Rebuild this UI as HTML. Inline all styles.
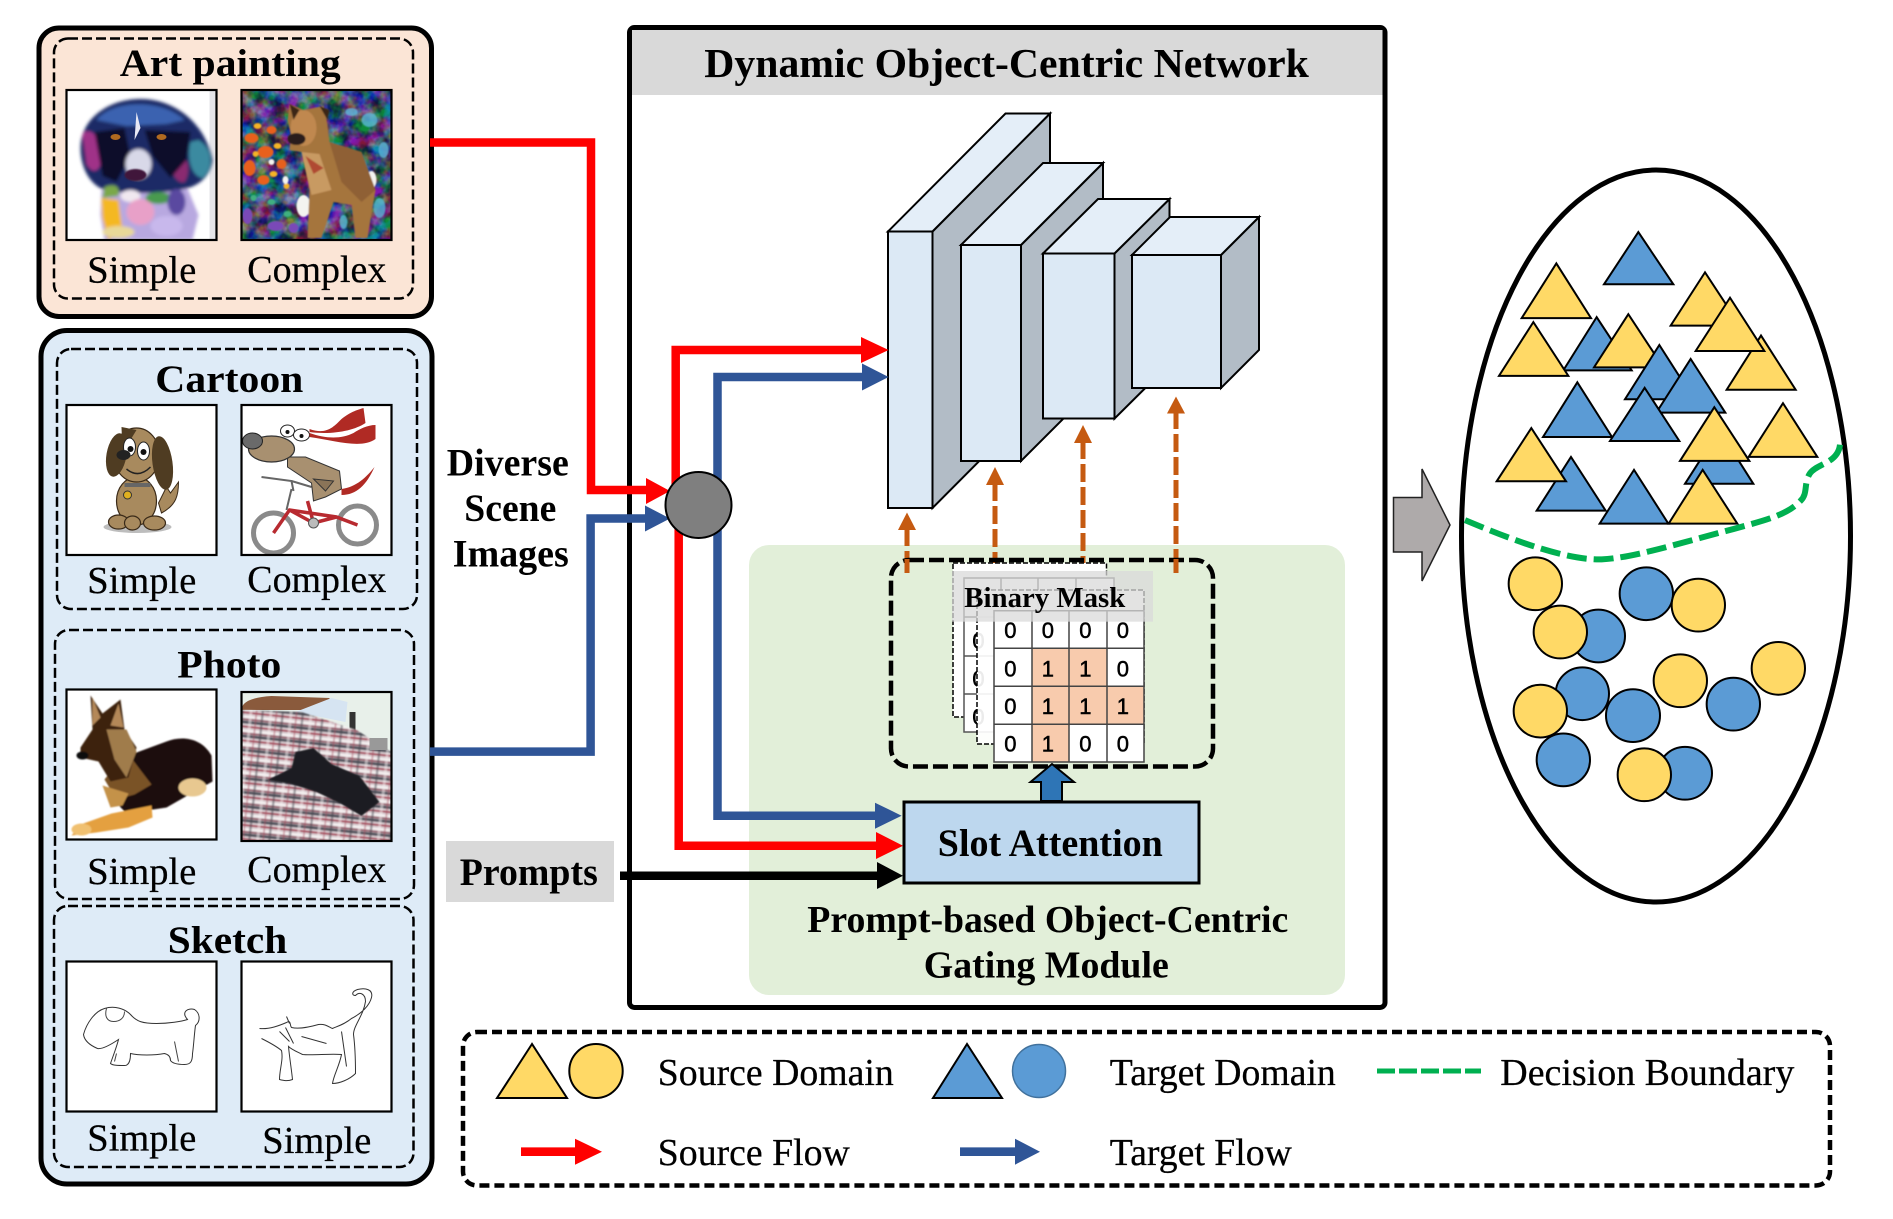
<!DOCTYPE html>
<html><head><meta charset="utf-8"><title>Dynamic Object-Centric Network</title>
<style>html,body{margin:0;padding:0;background:#fff}svg{display:block}
text{font-family:"Liberation Serif",serif;fill:#000;transform:translate(-.7px,1px)}
.b{font-weight:bold}.r{font-size:38px;stroke:#000;stroke-width:.25px}.h{font-size:39px;font-weight:bold}
.n{font-family:"Liberation Sans",sans-serif;font-size:22px;stroke:#000;stroke-width:.5px;transform:translate(-2.6px,.5px)}
</style></head><body>
<svg width="1893" height="1219" viewBox="0 0 1893 1219" xmlns="http://www.w3.org/2000/svg">
<defs>
<clipPath id="c"><rect x="0" y="0" width="150" height="150"/></clipPath>
<filter id="bl" x="-10%" y="-10%" width="120%" height="120%"><feGaussianBlur stdDeviation="1.5"/></filter>
<filter id="bs" x="-10%" y="-10%" width="120%" height="120%"><feGaussianBlur stdDeviation=".8"/></filter>
<filter id="paint" x="0" y="0" width="1" height="1" color-interpolation-filters="sRGB"><feTurbulence type="fractalNoise" baseFrequency=".07" numOctaves="3" seed="11"/><feColorMatrix values="2.8 0 0 0 -.95 0 2.8 0 0 -.95 0 0 2.8 0 -.95 0 0 0 0 1"/></filter>
<pattern id="plaid" width="20" height="14" patternUnits="userSpaceOnUse" patternTransform="rotate(6)">
<rect width="20" height="14" fill="#d8ccd0"/>
<rect y="0" width="20" height="3" fill="#55555e"/><rect y="5" width="20" height="2" fill="#a85060"/><rect y="9" width="20" height="2" fill="#f6f2f2"/><rect y="12" width="20" height="1.5" fill="#8a4a5a"/>
<rect x="2" width="2.500" height="14" fill="#45454e" opacity=".45"/><rect x="10" width="3" height="14" fill="#f6f0f0" opacity=".5"/><rect x="16" width="2" height="14" fill="#a85060" opacity=".4"/>
</pattern>
</defs>
<rect width="1893" height="1219" fill="#fff"/>

<!-- Art panel -->
<rect x="39" y="28" width="392.500" height="288.500" rx="20" fill="#fbe5d6" stroke="#000" stroke-width="5"/>
<rect x="54" y="38.5" width="359" height="260" rx="14" fill="none" stroke="#000" stroke-width="2.5" stroke-dasharray="10 4"/>
<!-- Blue panel -->
<rect x="41" y="330.500" width="391" height="853.500" rx="26" fill="#deebf7" stroke="#000" stroke-width="5"/>
<rect x="57" y="349" width="360" height="260" rx="14" fill="none" stroke="#000" stroke-width="2.5" stroke-dasharray="10 4"/>
<rect x="55" y="630" width="359" height="269" rx="14" fill="none" stroke="#000" stroke-width="2.5" stroke-dasharray="10 4"/>
<rect x="54" y="906" width="359.500" height="261" rx="14" fill="none" stroke="#000" stroke-width="2.5" stroke-dasharray="10 4"/>

<text class="h" x="120.400" y="75" textLength="221" lengthAdjust="spacingAndGlyphs">Art painting</text>
<text class="h" x="156" y="391" textLength="148" lengthAdjust="spacingAndGlyphs">Cartoon</text>
<text class="h" x="178" y="676.500" textLength="104" lengthAdjust="spacingAndGlyphs">Photo</text>
<text class="h" x="168.500" y="952" textLength="119.500" lengthAdjust="spacingAndGlyphs">Sketch</text>

<text class="r" x="88" y="281.500" textLength="109" lengthAdjust="spacingAndGlyphs">Simple</text>
<text class="r" x="248" y="281" textLength="139" lengthAdjust="spacingAndGlyphs">Complex</text>
<text class="r" x="88" y="592" textLength="109" lengthAdjust="spacingAndGlyphs">Simple</text>
<text class="r" x="248" y="591" textLength="139" lengthAdjust="spacingAndGlyphs">Complex</text>
<text class="r" x="88" y="883" textLength="109" lengthAdjust="spacingAndGlyphs">Simple</text>
<text class="r" x="248" y="881" textLength="139" lengthAdjust="spacingAndGlyphs">Complex</text>
<text class="r" x="88" y="1149.500" textLength="109" lengthAdjust="spacingAndGlyphs">Simple</text>
<text class="r" x="263" y="1152" textLength="109" lengthAdjust="spacingAndGlyphs">Simple</text>

<!-- IMG: art simple -->
<g transform="translate(66.5,90)"><rect width="150" height="150" fill="#fff"/><g clip-path="url(#c)">
<rect x="143" width="7" height="150" fill="#e4e4e8"/>
<g filter="url(#bl)">
<path d="M35 100L120 96L132 125L126 150H38L34 125Z" fill="#b8a8e0"/>
<path d="M14 58C14 30 40 10 72 9C105 8 138 30 146 70C144 88 130 98 112 100C90 104 60 104 38 100C22 94 14 76 14 58Z" fill="#1a2a66"/>
<path d="M30 30C45 10 95 8 118 30L100 34L60 36Z" fill="#3a62b0"/>
<path d="M16 44C24 36 34 48 36 62C36 78 28 88 20 74Z" fill="#a03088"/>
<path d="M132 50C146 58 148 78 136 88C124 86 120 66 124 52Z" fill="#3a8aa0"/>
<path d="M106 62C120 58 126 80 118 92C108 94 102 78 106 62Z" fill="#8a2a70"/>
<path d="M28 42L58 38L64 66L50 92L36 86Z" fill="#0c0f2a"/>
<path d="M78 40L124 42L120 70L104 88L86 66Z" fill="#0c0f2a"/>
<ellipse cx="72" cy="74" rx="13" ry="15" fill="#d8d8e8"/>
<path d="M38 97C48 93 54 96 52 106L36 108Z" fill="#7aa848"/>
<ellipse cx="92" cy="108" rx="13" ry="6" fill="#4a9a50"/>
<path d="M35 108L52 110L56 140L42 150L36 128Z" fill="#f4b820"/>
<ellipse cx="64" cy="106" rx="10" ry="6" fill="#f0e8f0"/>
<ellipse cx="74" cy="122" rx="14" ry="13" fill="#e8a0c8"/>
<ellipse cx="52" cy="142" rx="16" ry="6" fill="#e8d898"/>
<ellipse cx="110" cy="112" rx="9" ry="13" fill="#5a4aa0"/>
<ellipse cx="100" cy="136" rx="16" ry="10" fill="#c8b8ec"/>
</g>
<ellipse cx="69" cy="85" rx="11" ry="6" fill="#40163a" filter="url(#bs)"/>
<path d="M70 22L74 38L68 50Z" fill="#e8e8f4"/>
<ellipse cx="49" cy="47" rx="5" ry="3" fill="#b06a20"/><ellipse cx="95" cy="47" rx="5" ry="3" fill="#b06a20"/>
</g><rect x="0" y="0" width="150" height="150" fill="none" stroke="#000" stroke-width="2.2"/></g>

<!-- IMG: art complex -->
<g transform="translate(241.5,90)"><g clip-path="url(#c)">
<rect width="150" height="150" filter="url(#paint)"/>
<rect width="150" height="150" fill="#182a68" opacity=".55"/>
<g filter="url(#bs)">
<g fill="#e8601a"><ellipse cx="10" cy="48" rx="7" ry="5"/><ellipse cx="24" cy="62" rx="8" ry="6"/><ellipse cx="8" cy="78" rx="6" ry="8"/><ellipse cx="30" cy="40" rx="5" ry="4"/><ellipse cx="22" cy="90" rx="6" ry="5"/><ellipse cx="40" cy="74" rx="5" ry="5"/></g>
<g fill="#f4b428"><ellipse cx="16" cy="36" rx="4" ry="3"/><ellipse cx="36" cy="56" rx="4" ry="3"/><ellipse cx="14" cy="64" rx="3" ry="3"/><ellipse cx="32" cy="84" rx="4" ry="3"/><ellipse cx="45" cy="96" rx="3" ry="3"/></g>
<g fill="#f4f4f0"><ellipse cx="44" cy="90" rx="3" ry="4"/><ellipse cx="30" cy="72" rx="3" ry="3"/><ellipse cx="62" cy="116" rx="7" ry="11"/><ellipse cx="130" cy="90" rx="5" ry="9"/><ellipse cx="118" cy="120" rx="4" ry="8"/></g>
<g fill="#5ab8d8" opacity=".8"><ellipse cx="128" cy="30" rx="8" ry="7"/><ellipse cx="142" cy="60" rx="5" ry="8"/><ellipse cx="110" cy="22" rx="6" ry="4"/><ellipse cx="138" cy="118" rx="6" ry="10"/><ellipse cx="102" cy="132" rx="4" ry="7"/></g>
<g fill="#40b080"><ellipse cx="46" cy="124" rx="4" ry="3"/><ellipse cx="30" cy="112" rx="4" ry="3"/><ellipse cx="12" cy="108" rx="3" ry="3"/></g>
<g fill="#7a48b8"><ellipse cx="34" cy="136" rx="8" ry="5"/><ellipse cx="6" cy="126" rx="5" ry="8"/><ellipse cx="52" cy="138" rx="5" ry="5"/></g>
<path d="M48 14L62 20L82 16L86 34L88 52L120 62L134 100L126 148L114 148L110 115L92 112L80 148L66 148L68 100L60 62L48 60L50 48L46 30Z" fill="#a5743e"/>
<path d="M88 52L120 62L134 100L120 112L100 92Z" fill="#8f6034"/>
<path d="M60 62L78 64L90 100L70 105Z" fill="#c89a62"/>
<path d="M64 66L72 84L82 78Z" fill="#b04a30"/>
<ellipse cx="62" cy="38" rx="13" ry="18" fill="#c08850"/>
<ellipse cx="55" cy="49" rx="9" ry="6" fill="#2a1e1a"/>
<path d="M48 14L58 20L52 30Z" fill="#3a2618"/><path d="M78 16L88 20L86 30Z" fill="#3a2618"/>
</g></g><rect width="150" height="150" fill="none" stroke="#000" stroke-width="2.2"/></g>

<!-- IMG: cartoon simple -->
<g transform="translate(66.5,405)"><rect width="150" height="150" fill="#fff"/><g clip-path="url(#c)">
<ellipse cx="71" cy="122" rx="34" ry="6" fill="#bdbdbd"/>
<path d="M95 108C110 100 112 90 112 77L104 88L100 82L92 98Z" fill="#a88a5e" stroke="#3a2a18" stroke-width="1"/>
<ellipse cx="70" cy="96" rx="20" ry="24" fill="#a88a5e" stroke="#3a2a18" stroke-width="1.2"/>
<ellipse cx="52" cy="117" rx="10" ry="7" fill="#a88a5e" stroke="#3a2a18" stroke-width="1.2"/><ellipse cx="88" cy="118" rx="11" ry="7" fill="#a88a5e" stroke="#3a2a18" stroke-width="1.2"/>
<ellipse cx="66" cy="118" rx="8" ry="7" fill="#a88a5e" stroke="#3a2a18" stroke-width="1.2"/>
<ellipse cx="70" cy="50" rx="23" ry="27" fill="#a88a5e" stroke="#3a2a18" stroke-width="1.2"/>
<ellipse cx="50" cy="50" rx="10" ry="22" fill="#4f3c22" transform="rotate(10 50 50)"/>
<ellipse cx="96" cy="58" rx="10" ry="27" fill="#4f3c22" transform="rotate(-8 96 58)"/>
<path d="M55 22L70 25L56 48Z" fill="#4f3c22"/>
<ellipse cx="63" cy="42" rx="6" ry="9" fill="#fff" stroke="#222"/><ellipse cx="77" cy="46" rx="6" ry="9" fill="#fff" stroke="#222"/>
<circle cx="64" cy="44" r="3" fill="#111"/><circle cx="77" cy="47" r="3" fill="#111"/>
<ellipse cx="57" cy="50" rx="7" ry="5" fill="#222"/>
<path d="M60 64Q72 74 84 62" fill="none" stroke="#222" stroke-width="1.5"/>
<rect x="58" y="78" width="26" height="4" fill="#666"/><circle cx="61" cy="90" r="4" fill="#e0b020" stroke="#333"/>
</g><rect width="150" height="150" fill="none" stroke="#000" stroke-width="2.2"/></g>

<!-- IMG: cartoon complex -->
<g transform="translate(241.5,405)"><rect width="150" height="150" fill="#fff"/><g clip-path="url(#c)">
<g fill="none" stroke="#8a8a8a" stroke-width="5"><circle cx="32" cy="128" r="20"/><circle cx="116" cy="120" r="19"/></g>
<path d="M32 128L48 105L95 112L116 120M48 105L72 118L95 112M72 118L66 96" fill="none" stroke="#b82a30" stroke-width="3.500"/>
<circle cx="72" cy="118" r="5" fill="#bbb" stroke="#555"/>
<path d="M50 84L45 105M20 72L50 76L52 86M50 76L70 82" fill="none" stroke="#666" stroke-width="2"/>
<path d="M46 52L64 52L98 66L100 84L84 92L72 96L70 78L46 62Z" fill="#a89070" stroke="#333" stroke-width="1"/>
<path d="M72 74L92 76L84 86Z" fill="#8a7458" stroke="#333"/>
<ellipse cx="30" cy="44" rx="23" ry="13" fill="#a89070" stroke="#333" stroke-width="1.200"/>
<ellipse cx="11" cy="36" rx="10" ry="8" fill="#6a6a6a" stroke="#222"/>
<ellipse cx="46" cy="26" rx="7" ry="6" fill="#fff" stroke="#222"/><ellipse cx="60" cy="30" rx="8" ry="6" fill="#fff" stroke="#222"/>
<circle cx="46" cy="27" r="2" fill="#111"/><circle cx="60" cy="31" r="2" fill="#111"/>
<path d="M68 24C85 30 92 22 100 14C108 8 112 6 122 3L124 18C112 26 90 30 68 27Z" fill="#b02a24"/>
<path d="M68 28C85 34 100 34 112 28C118 24 126 20 134 20L134 34C120 44 95 36 68 32Z" fill="#b02a24"/>
<path d="M100 84C115 82 125 72 133 62C125 80 115 90 100 90Z" fill="#b02a24"/>
</g><rect width="150" height="150" fill="none" stroke="#000" stroke-width="2.2"/></g>

<!-- IMG: photo simple -->
<g transform="translate(66.5,689.5)"><rect width="150" height="150" fill="#fff"/><g clip-path="url(#c)"><g filter="url(#bs)">
<path d="M62 66L100 52C115 46 135 48 145 66L146 92L128 102L100 118L60 124L42 105Z" fill="#1c0c0a"/>
<path d="M60 62L72 78L85 95L68 105L50 110L38 90Z" fill="#7a5228"/>
<ellipse cx="126" cy="98" rx="14" ry="9" fill="#e8c890"/>
<path d="M24 6L36 24L54 10L58 40L70 58L62 88L44 92L32 72L14 68L14 58L26 40Z" fill="#3c2210"/>
<path d="M40 40L60 40L70 62L60 88L48 70Z" fill="#a07c4c"/>
<path d="M26 8L34 28L26 36Z" fill="#b48858"/><path d="M52 14L57 38L44 36Z" fill="#b48858"/>
<path d="M36 96L62 104L56 116L44 118Z" fill="#c4924a"/>
<path d="M5 146L14 135L45 124L85 116L86 128L62 138L30 143Z" fill="#e4a040"/>
<ellipse cx="15" cy="140" rx="10" ry="6" fill="#f0c070"/>
<ellipse cx="16" cy="66" rx="6" ry="4" fill="#111"/>
</g></g><rect width="150" height="150" fill="none" stroke="#000" stroke-width="2.2"/></g>

<!-- IMG: photo complex -->
<g transform="translate(241.5,692)"><rect width="150" height="149" fill="#e8f0ea"/><g clip-path="url(#c)">
<path d="M0 18Q0 6 30 4L88 6L88 18Z" fill="#8a5a3c"/>
<path d="M54 20L90 6L106 10L104 30Z" fill="#d6e4f2"/>
<rect x="108" y="20" width="6" height="20" fill="#333"/>
<path d="M0 18L60 20L115 38L150 60V150H0Z" fill="url(#plaid)" filter="url(#bs)"/>
<rect x="128" y="46" width="18" height="12" fill="#999"/>
<path d="M26 88L50 76L54 60L72 56L90 72L118 84L138 110L120 124L100 112L75 100L50 92Z" fill="#1e1e20" filter="url(#bs)"/>
</g><rect width="150" height="149" fill="none" stroke="#000" stroke-width="2.2"/></g>

<!-- IMG: sketch 1 -->
<g transform="translate(66.5,961.5)"><rect width="150" height="150" fill="#fff"/>
<path d="M17 73C20 62 28 50 38 47C48 44 58 47 64 53C70 60 76 62 90 62C102 62 115 60 121 58C114 50 122 46 128 48C134 52 134 60 129 64C128 70 127 86 126 92C126 100 124 103 118 103C112 103 106 102 104 99C104 95 102 93 98 92C88 94 72 94 64 92C64 98 63 104 58 104C52 104 46 104 44 102C46 96 50 86 52 78C46 82 36 88 31 87C24 84 18 80 17 73Z" fill="none" stroke="#333" stroke-width="1"/>
<path d="M40 47C38 54 40 60 47 60C54 60 58 56 58 50M50 92L48 100M108 80L112 100" fill="none" stroke="#444" stroke-width="1"/>
<rect width="150" height="150" fill="none" stroke="#000" stroke-width="2.2"/></g>

<!-- IMG: sketch 2 -->
<g transform="translate(241.5,961.5)"><rect width="150" height="150" fill="#fff"/>
<path d="M18 67C28 68 38 64 45 61C50 58 48 64 50 66C58 68 70 65 77 63C84 62 88 66 91 67C98 64 104 62 110 57C120 52 128 44 130 36C132 28 124 26 116 28C110 30 110 34 114 34C118 30 124 32 124 40C122 54 112 64 112 73C114 88 114 100 114 112C108 118 98 122 91 122C92 114 98 104 100 93C88 92 72 94 61 93C55 90 50 88 47 85C48 96 50 108 51 118C46 120 42 119 38 118C38 108 42 98 40 89C34 84 26 80 20 77" fill="none" stroke="#333" stroke-width="1"/>
<path d="M38 70L48 80M44 66L52 82M60 75L85 82M100 70L105 105M45 55L48 62" fill="none" stroke="#333" stroke-width="1"/>
<rect width="150" height="150" fill="none" stroke="#000" stroke-width="2.2"/></g>

<text class="h" x="447.500" y="474.500" textLength="122" lengthAdjust="spacingAndGlyphs">Diverse</text>
<text class="h" x="465" y="520" textLength="92" lengthAdjust="spacingAndGlyphs">Scene</text>
<text class="h" x="453.500" y="565.500" textLength="116" lengthAdjust="spacingAndGlyphs">Images</text>

<rect x="446" y="841" width="168" height="61" fill="#d9d9d9"/>
<text class="h" x="460.500" y="884" textLength="138" lengthAdjust="spacingAndGlyphs">Prompts</text>

<!-- Network box -->
<rect x="629.500" y="27.500" width="755.500" height="980" rx="5" fill="#fff" stroke="#000" stroke-width="5"/>
<rect x="632" y="30" width="750.500" height="65" fill="#d9d9d9"/>
<text class="h" x="705" y="76" textLength="604.500" lengthAdjust="spacingAndGlyphs" style="font-size:41px">Dynamic Object-Centric Network</text>
<rect x="749" y="545" width="596" height="450" rx="20" fill="#e2efd9"/>

<!-- 3D blocks -->
<g stroke="#000" stroke-width="2" stroke-linejoin="miter">
<path d="M932.5 231.500L1050 113.500V390L932.5 508Z" fill="#b2bcc6"/><path d="M888 231.500L1005.500 113.500H1050L932.500 231.500Z" fill="#e4eef8"/><rect x="888" y="231.500" width="44.500" height="276.500" fill="#dce9f5"/>
<path d="M1021 245L1103 163V379L1021 461Z" fill="#b2bcc6"/><path d="M961 245L1043 163H1103L1021 245Z" fill="#e4eef8"/><rect x="961" y="245" width="60" height="216" fill="#dce9f5"/>
<path d="M1114.500 253.500L1169.500 199V364L1114.500 418.600Z" fill="#b2bcc6"/><path d="M1043 253.500L1098 199H1169.500L1114.500 253.500Z" fill="#e4eef8"/><rect x="1043" y="253.500" width="71.500" height="165" fill="#dce9f5"/>
<path d="M1221 255L1259 217V350L1221 388Z" fill="#b2bcc6"/><path d="M1132 255L1170 217H1259L1221 255Z" fill="#e4eef8"/><rect x="1132" y="255" width="89" height="133" fill="#dce9f5"/>
</g>

<!-- Orange arrows -->
<g stroke="#c55a11" stroke-width="5" stroke-dasharray="18 5" fill="none">
<path d="M907 528V573"/><path d="M995 483V573"/><path d="M1083 441V573"/><path d="M1176 411V573"/>
</g>
<g fill="#c55a11">
<path d="M898 530L907 512.500L916 530Z"/><path d="M986 485L995 467L1004 485Z"/><path d="M1074 443L1083 425L1092 443Z"/><path d="M1167 413.500L1176 396.500L1185 413.500Z"/>
</g>

<!-- Binary mask -->
<rect x="891" y="560" width="322" height="206.500" rx="18" fill="none" stroke="#000" stroke-width="4.500" stroke-dasharray="15 5"/>
<path d="M907 559V573M1176 559V573" stroke="#c55a11" stroke-width="5"/>
<rect x="953" y="563" width="153.500" height="154" fill="#fff" stroke="#000" stroke-width="1.500" stroke-dasharray="5 2"/>
<g fill="#fff" stroke="#555" stroke-width="1.500"><rect x="964" y="578" width="150" height="154"/><path d="M964 617H1114M964 656H1114M964 694H1114M1001 578V732M1038 578V732M1076 578V732" fill="none"/></g>
<text class="n" x="975" y="648">0</text><text class="n" x="975" y="686">0</text><text class="n" x="975" y="724">0</text>
<rect x="977" y="590" width="167" height="154" fill="#fff" fill-opacity=".92" stroke="#000" stroke-width="1.500" stroke-dasharray="5 2"/>
<rect x="1032" y="648.300" width="37" height="114" fill="#f8cbad"/><rect x="1069" y="648.300" width="38" height="76" fill="#f8cbad"/><rect x="1107" y="686.300" width="37" height="38" fill="#f8cbad"/>
<rect x="994" y="610.700" width="38" height="151.500" fill="#fff"/><rect x="1032" y="610.700" width="112" height="37.600" fill="#fff"/><rect x="1107" y="648.300" width="37" height="38" fill="#fff"/><rect x="1069" y="724.300" width="75" height="38" fill="#fff"/>
<path d="M994 610.700H1144V762H994ZM994 648.300H1144M994 686.300H1144M994 724.300H1144M1032 610.700V762M1069 610.700V762M1107 610.700V762" fill="none" stroke="#444" stroke-width="1.500"/>
<text class="n" x="1013" y="637.500" text-anchor="middle">0</text><text class="n" x="1050.500" y="637.500" text-anchor="middle">0</text><text class="n" x="1088" y="637.500" text-anchor="middle">0</text><text class="n" x="1125.500" y="637.500" text-anchor="middle">0</text>
<text class="n" x="1013" y="676" text-anchor="middle">0</text><text class="n" x="1050.500" y="676" text-anchor="middle">1</text><text class="n" x="1088" y="676" text-anchor="middle">1</text><text class="n" x="1125.500" y="676" text-anchor="middle">0</text>
<text class="n" x="1013" y="713.500" text-anchor="middle">0</text><text class="n" x="1050.500" y="713.500" text-anchor="middle">1</text><text class="n" x="1088" y="713.500" text-anchor="middle">1</text><text class="n" x="1125.500" y="713.500" text-anchor="middle">1</text>
<text class="n" x="1013" y="751" text-anchor="middle">0</text><text class="n" x="1050.500" y="751" text-anchor="middle">1</text><text class="n" x="1088" y="751" text-anchor="middle">0</text><text class="n" x="1125.500" y="751" text-anchor="middle">0</text>
<rect x="952" y="571" width="201" height="50.700" fill="#d9d9d9" fill-opacity=".75"/>
<text class="b" x="965" y="606" textLength="161" lengthAdjust="spacingAndGlyphs" style="font-size:29px">Binary Mask</text>

<!-- Up arrow and slot attention -->
<path d="M1041 801V782H1030.500L1052 764L1074 782H1062V801Z" fill="#2e75b6" stroke="#000" stroke-width="2"/>
<rect x="904" y="802" width="295" height="81" fill="#bdd7ee" stroke="#000" stroke-width="3"/>
<text class="h" x="938.500" y="855.200" textLength="225" lengthAdjust="spacingAndGlyphs">Slot Attention</text>
<text class="h" x="808" y="931" textLength="481" lengthAdjust="spacingAndGlyphs" style="font-size:38px">Prompt-based Object-Centric</text>
<text class="h" x="924.500" y="976.500" textLength="245" lengthAdjust="spacingAndGlyphs" style="font-size:38px">Gating Module</text>

<!-- Flow lines -->
<g fill="none" stroke-width="8.500" stroke-linejoin="miter">
<path d="M430 142.500H591V490H650" stroke="#f00"/>
<path d="M430 751.600H590.600V518.500H650" stroke="#2f5597"/>
<path d="M675.700 490V350H865" stroke="#f00"/>
<path d="M678.700 520V845.700H880" stroke="#f00"/>
<path d="M717.500 490V377H865" stroke="#2f5597"/>
<path d="M717.500 520V815.700H880" stroke="#2f5597"/>
<path d="M620 875.700H880" stroke="#000"/>
</g>
<path d="M646 478L670 491L646 504Z" fill="#f00"/>
<path d="M645 505.500L670 518.500L645 531.500Z" fill="#2f5597"/>
<path d="M861 337L888.600 350L861 363Z" fill="#f00"/>
<path d="M862 363.500L888.600 377L862 390.500Z" fill="#2f5597"/>
<path d="M876 832L903 845.700L876 859Z" fill="#f00"/>
<path d="M875 802.700L901.600 815.700L875 828.700Z" fill="#2f5597"/>
<path d="M877 862L903 875.700L877 889Z" fill="#000"/>
<circle cx="698.500" cy="505" r="33" fill="#7f7f7f" stroke="#000" stroke-width="2"/>

<!-- Gray big arrow -->
<path d="M1393.500 497.500H1422V469L1450 525L1422 581V552H1393.500Z" fill="#aeaaaa" stroke="#222" stroke-width="1.500"/>
<!-- Ellipse -->
<ellipse cx="1656" cy="536" rx="194.500" ry="366" fill="#fff" stroke="#000" stroke-width="5"/>

<!-- Scatter -->
<g transform="translate(1380,150) scale(.33333,.49744)" stroke="#000" stroke-width="2">
<polygon vector-effect="non-scaling-stroke" points="775,165 672,270 880,270" fill="#5b9bd5"/>
<polygon vector-effect="non-scaling-stroke" points="529,228 425,338 633,338" fill="#ffd966"/>
<polygon vector-effect="non-scaling-stroke" points="975,246 872,353 1080,353" fill="#ffd966"/>
<polygon vector-effect="non-scaling-stroke" points="650,336 550,443 755,443" fill="#5b9bd5"/>
<polygon vector-effect="non-scaling-stroke" points="460,346 357,454 565,454" fill="#ffd966"/>
<polygon vector-effect="non-scaling-stroke" points="745,330 642,437 850,437" fill="#ffd966"/>
<polygon vector-effect="non-scaling-stroke" points="838,392 735,501 942,501" fill="#5b9bd5"/>
<polygon vector-effect="non-scaling-stroke" points="1143,373 1040,482 1247,482" fill="#ffd966"/>
<polygon vector-effect="non-scaling-stroke" points="1050,297 947,404 1153,404" fill="#ffd966"/>
<polygon vector-effect="non-scaling-stroke" points="932,420 829,528 1036,528" fill="#5b9bd5"/>
<polygon vector-effect="non-scaling-stroke" points="592,467 489,577 696,577" fill="#5b9bd5"/>
<polygon vector-effect="non-scaling-stroke" points="794,478 690,585 898,585" fill="#5b9bd5"/>
<polygon vector-effect="non-scaling-stroke" points="1018,563 915,671 1120,671" fill="#5b9bd5"/>
<polygon vector-effect="non-scaling-stroke" points="1003,517 900,625 1108,625" fill="#ffd966"/>
<polygon vector-effect="non-scaling-stroke" points="1209,509 1106,617 1312,617" fill="#ffd966"/>
<polygon vector-effect="non-scaling-stroke" points="573,617 470,725 677,725" fill="#5b9bd5"/>
<polygon vector-effect="non-scaling-stroke" points="454,559 350,666 558,666" fill="#ffd966"/>
<polygon vector-effect="non-scaling-stroke" points="762,643 659,751 865,751" fill="#5b9bd5"/>
<polygon vector-effect="non-scaling-stroke" points="968,643 866,751 1072,751" fill="#ffd966"/>

<ellipse vector-effect="non-scaling-stroke" cx="466" cy="872" rx="80" ry="53" fill="#ffd966"/>
<ellipse vector-effect="non-scaling-stroke" cx="799" cy="892" rx="80" ry="53" fill="#5b9bd5"/>
<ellipse vector-effect="non-scaling-stroke" cx="955" cy="915" rx="80" ry="53" fill="#ffd966"/>
<ellipse vector-effect="non-scaling-stroke" cx="655" cy="977" rx="80" ry="53" fill="#5b9bd5"/>
<ellipse vector-effect="non-scaling-stroke" cx="541" cy="969" rx="80" ry="53" fill="#ffd966"/>
<ellipse vector-effect="non-scaling-stroke" cx="901" cy="1067" rx="80" ry="53" fill="#ffd966"/>
<ellipse vector-effect="non-scaling-stroke" cx="1195" cy="1042" rx="80" ry="53" fill="#ffd966"/>
<ellipse vector-effect="non-scaling-stroke" cx="607" cy="1093" rx="80" ry="53" fill="#5b9bd5"/>
<ellipse vector-effect="non-scaling-stroke" cx="481" cy="1128" rx="80" ry="53" fill="#ffd966"/>
<ellipse vector-effect="non-scaling-stroke" cx="759" cy="1137" rx="81" ry="53" fill="#5b9bd5"/>
<ellipse vector-effect="non-scaling-stroke" cx="1060" cy="1114" rx="80" ry="53" fill="#5b9bd5"/>
<ellipse vector-effect="non-scaling-stroke" cx="550" cy="1226" rx="80" ry="53" fill="#5b9bd5"/>
<ellipse vector-effect="non-scaling-stroke" cx="915" cy="1253" rx="81" ry="53" fill="#5b9bd5"/>
<ellipse vector-effect="non-scaling-stroke" cx="793" cy="1256" rx="80" ry="53" fill="#ffd966"/>
<path vector-effect="non-scaling-stroke" d="M255 744C400 785 560 825 665 823C760 820 900 790 1060 762C1150 745 1220 735 1262 705C1285 690 1270 670 1290 650C1310 630 1375 630 1380 592" fill="none" stroke="#00b050" stroke-width="6" stroke-dasharray="20 7"/>
</g>

<!-- Legend -->
<rect x="463" y="1032" width="1367" height="153.500" rx="14" fill="none" stroke="#000" stroke-width="4.500" stroke-dasharray="10 5"/>
<path d="M532 1044L497 1098H567Z" fill="#ffd966" stroke="#000" stroke-width="2"/>
<ellipse cx="596" cy="1071" rx="26.700" ry="27" fill="#ffd966" stroke="#000" stroke-width="2"/>
<path d="M967 1044L933 1098H1002Z" fill="#5b9bd5" stroke="#000" stroke-width="2"/>
<ellipse cx="1039" cy="1071" rx="26.500" ry="26.500" fill="#5b9bd5" stroke="#41719c" stroke-width="1.500"/>
<text class="r" x="658.500" y="1084" textLength="236" lengthAdjust="spacingAndGlyphs">Source Domain</text>
<text class="r" x="1110.500" y="1084" textLength="226" lengthAdjust="spacingAndGlyphs">Target Domain</text>
<text class="r" x="1501" y="1084" textLength="294" lengthAdjust="spacingAndGlyphs">Decision Boundary</text>
<path d="M1377 1071H1481" stroke="#00b050" stroke-width="5" stroke-dasharray="18 4"/>
<path d="M521 1147.400H575V1138.700L602 1151.700L575 1164.700V1156H521Z" fill="#f00"/>
<path d="M960 1147.400H1015V1138.700L1040 1151.700L1015 1164.700V1156H960Z" fill="#2f5597"/>
<text class="r" x="658.500" y="1164" textLength="192" lengthAdjust="spacingAndGlyphs">Source Flow</text>
<text class="r" x="1110.500" y="1164" textLength="182" lengthAdjust="spacingAndGlyphs">Target Flow</text>
</svg>
</body></html>
